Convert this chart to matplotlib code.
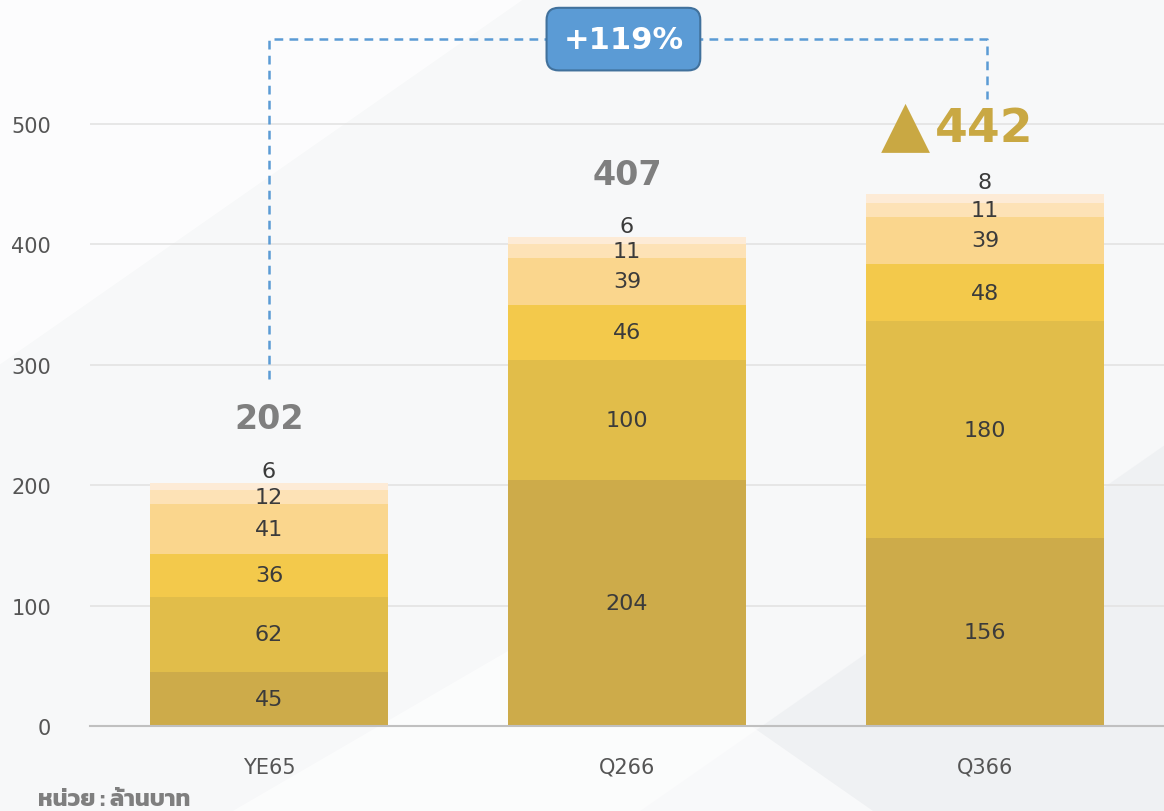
import numpy as np
import matplotlib.pyplot as plt
from matplotlib.patches import Polygon

categories = ['YE65', 'Q266', 'Q366']
# stacked segments, bottom to top
seg1 = [45, 204, 156]
seg2 = [62, 100, 180]
seg3 = [36, 46, 48]
seg4 = [41, 39, 39]
seg5 = [12, 11, 11]
seg6 = [6, 6, 8]
totals = [202, 407, 442]
growth_label = '+119%'
unit_label = 'หน่วย : ล้านบาท'

seg_colors = ['#cdab4a', '#e1bd4a', '#f3c94b', '#fad68d', '#fde2b6', '#fdebd6']
text_dark = '#3b3b3b'
gray = '#7f7f7f'
gold = '#c9a843'
blue = '#5b9bd5'

fig = plt.figure(figsize=(11.64, 8.12), dpi=100)
fig.patch.set_facecolor('#f7f8f9')

# soft background shapes
bg = fig.add_axes([0, 0, 1, 1], zorder=-1)
bg.set_xlim(0, 1)
bg.set_ylim(0, 1)
bg.axis('off')
bg.add_patch(Polygon([(0, 0.55), (0.45, 1), (0, 1)], closed=True, color='#ffffff', alpha=0.7, lw=0))
bg.add_patch(Polygon([(0.55, 0), (1, 0.45), (1, 0)], closed=True, color='#eef0f2', alpha=0.8, lw=0))
bg.add_patch(Polygon([(0.2, 0), (0.5, 0.25), (0.75, 0)], closed=True, color='#ffffff', alpha=0.6, lw=0))

ax = fig.add_axes([90 / 1164, 1 - 727 / 812, 1074 / 1164, 727 / 812])
ax.set_facecolor('none')
ax.set_xlim(-0.5, 2.5)
ax.set_ylim(0, 727 / 1.204)

x = np.arange(len(categories))
segments = [seg1, seg2, seg3, seg4, seg5, seg6]
bottom = np.zeros(len(categories))
for i, (vals, col) in enumerate(zip(segments, seg_colors)):
    vals = np.array(vals)
    ax.bar(x, vals, bottom=bottom, width=0.664, color=col, edgecolor='none', zorder=2)
    for xi, v, b in zip(x, vals, bottom):
        if i == len(segments) - 1:
            ax.annotate(str(v), (xi, b + v), xytext=(0, 1), textcoords='offset points',
                        ha='center', va='bottom', fontsize=16, color=text_dark, zorder=4)
        else:
            ax.text(xi, b + v / 2, str(v), ha='center', va='center',
                    fontsize=16, color=text_dark, zorder=4)
    bottom = bottom + vals

# grid & axes
ax.set_yticks([0, 100, 200, 300, 400, 500])
ax.yaxis.grid(True, color='#e3e3e3', lw=1.2, zorder=0)
ax.set_axisbelow(True)
for s in ['top', 'right', 'left']:
    ax.spines[s].set_visible(False)
ax.spines['bottom'].set_color('#c0c0c0')
ax.spines['bottom'].set_linewidth(1.5)
ax.tick_params(axis='both', length=0, labelsize=15, labelcolor='#555555')
ax.tick_params(axis='y', pad=28)
ax.tick_params(axis='x', pad=22)
ax.set_xticks(x)
ax.set_xticklabels(categories)

# totals
ax.text(0, 255, str(totals[0]), ha='center', va='center', fontsize=24,
        fontweight='bold', color=gray)
ax.text(1, 458, str(totals[1]), ha='center', va='center', fontsize=24,
        fontweight='bold', color=gray)
ax.text(1.86, 496, str(totals[2]), ha='left', va='center', fontsize=34,
        fontweight='bold', color=gold)
ax.text(1.845, 498, '▲', ha='right', va='center', fontsize=46, color=gold)

# growth bracket
y_top = 570.5
ax.plot([0, 0, 2.005, 2.005], [288, y_top, y_top, 521], ls=(0, (3.5, 2.5)),
        color=blue, lw=1.8, clip_on=False, zorder=1)
ax.text(0.99, y_top, growth_label, ha='center', va='center', fontsize=22,
        fontweight='bold', color='white', zorder=5,
        bbox=dict(boxstyle='round,pad=0.55,rounding_size=0.4', fc=blue,
                  ec='#41719c', lw=1.5))

fig.text(38 / 1164, 1 - 800 / 812, unit_label, ha='left', va='center',
         fontsize=17, fontweight='bold', color=gray,
         family=['Kanit', 'Bai Jamjuree', 'DejaVu Sans'])

fig.savefig('out.png', dpi=100, facecolor=fig.get_facecolor())
